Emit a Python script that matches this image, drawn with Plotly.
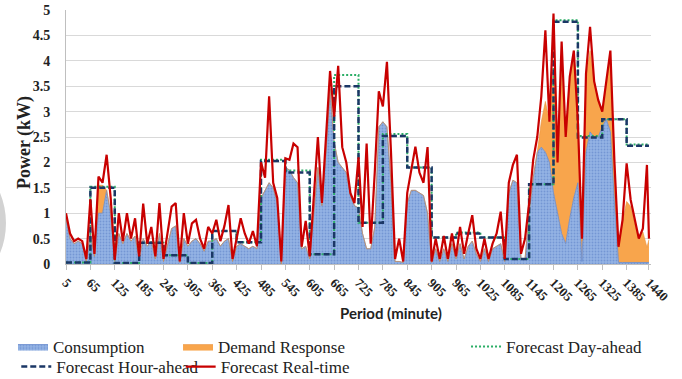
import plotly.graph_objects as go

# ---------------- data ----------------
minutes = list(range(5, 1440, 10)) + [1440]

real_time = [1.0, 0.6, 0.45, 0.5, 0.45, 0.1, 1.28, 0.2, 1.72, 1.6,
             2.15, 1.3, 0.08, 1.0, 0.45, 1.0, 0.5, 0.9, 0.15, 1.19,
             0.4, 0.73, 0.15, 1.2, 0.1, 0.6, 1.13, 1.2, 0.05, 1.0,
             0.4, 0.8, 0.87, 0.5, 0.3, 0.73, 0.6, 0.87, 0.45, 0.75,
             1.16, 0.1, 0.5, 0.9, 0.6, 0.4, 0.65, 0.35, 2.0, 1.7,
             3.3, 1.6, 1.3, 0.05, 2.08, 2.05, 2.37, 2.3, 0.34, 0.85,
             0.15, 1.4, 2.5, 1.2, 2.4, 3.8, 2.9, 3.9, 2.3, 2.0,
             1.4, 1.2, 2.1, 0.73, 2.37, 0.4, 1.8, 3.4, 3.1, 3.98,
             2.2, 0.1, 0.5, 0.05, 1.4, 1.85, 2.31, 1.8, 1.6, 2.3,
             0.05, 0.5, 0.1, 0.55, 0.1, 0.6, 0.15, 0.73, 0.2, 0.6,
             0.96, 0.3, 0.1, 0.5, 0.1, 0.4, 0.6, 1.03, 0.1, 1.6,
             1.95, 2.15, 0.2, 0.5, 1.2, 2.05, 2.5, 3.3, 4.6, 2.8,
             4.93, 2.0, 4.38, 2.5, 3.69, 4.2, 2.8, 0.5, 3.75, 4.67,
             3.6, 3.23, 3.0, 3.6, 4.2, 2.0, 0.34, 0.87, 1.98, 1.26,
             0.9, 0.5, 0.7, 1.95, 0.5]

consumption = [0.9, 0.5, 0.4, 0.45, 0.4, 0.05, 0.6, 0.15, 1.0, 1.0,
               1.45, 1.0, 0.05, 0.6, 0.4, 0.6, 0.45, 0.55, 0.1, 0.5,
               0.35, 0.45, 0.1, 0.6, 0.05, 0.4, 0.7, 0.75, 0.03, 0.5,
               0.35, 0.45, 0.5, 0.4, 0.25, 0.45, 0.45, 0.5, 0.35, 0.45,
               0.5, 0.05, 0.35, 0.4, 0.35, 0.3, 0.35, 0.3, 1.3, 1.45,
               1.6, 1.5, 1.2, 0.0, 1.9, 1.85, 1.7, 1.6, 0.3, 0.35,
               0.1, 1.0, 1.9, 1.15, 2.2, 3.45, 2.4, 2.0, 1.9, 1.8,
               1.35, 1.15, 1.1, 0.6, 0.3, 0.3, 0.73, 2.7, 2.8, 2.7,
               1.6, 0.05, 0.05, 0.03, 1.2, 1.45, 1.45, 1.4, 1.35, 1.0,
               0.03, 0.3, 0.05, 0.3, 0.05, 0.4, 0.1, 0.4, 0.1, 0.35,
               0.45, 0.2, 0.05, 0.3, 0.05, 0.3, 0.35, 0.4, 0.05, 1.4,
               1.65, 1.6, 0.1, 0.1, 1.0, 1.7, 2.2, 2.3, 2.2, 2.0,
               1.4, 1.0, 0.6, 0.4, 0.9, 1.3, 1.6, 0.05, 2.2, 2.6,
               2.5, 2.5, 2.7, 2.85, 2.6, 1.2, 0.03, 0.03, 0.03, 0.03,
               0.03, 0.03, 0.03, 0.03, 0.03]

demand_response = [0, 0, 0, 0, 0, 0, 0, 0, 0.55, 0.55,
                    0, 0, 0, 0, 0, 0, 0, 0, 0, 0,
                    0, 0, 0, 0, 0, 0, 0, 0, 0, 0,
                    0, 0, 0, 0, 0, 0, 0, 0, 0, 0,
                    0, 0, 0, 0, 0, 0, 0, 0, 0, 0,
                    0, 0, 0, 0, 0, 0, 0, 0, 0, 0,
                    0, 0, 0, 0, 0, 0, 0, 0, 0, 0,
                    0, 0, 0, 0, 0, 0, 0, 0, 0, 0,
                    0, 0, 0, 0, 0, 0, 0, 0, 0, 0,
                    0, 0, 0, 0, 0, 0, 0, 0, 0, 0,
                    0, 0, 0, 0, 0, 0, 0, 0, 0, 0,
                    0, 0, 0, 0, 0, 0, 0, 0.5, 1.0, 0.8,
                    2.4, 1.0, 3.2, 2.1, 2.7, 2.9, 1.2, 0.4, 1.5, 1.6,
                    1.1, 0.7, 0.3, 0.75, 1.5, 0.8, 0.3, 0.8, 1.2, 1.1,
                    0.8, 0.45, 0.6, 0.3, 0.45]

hour_starts = list(range(5, 1440, 60)) + [1440]
hour_ahead = [0.03, 1.5, 0.02, 0.42, 0.17, 0.02, 0.65, 0.43, 2.03, 1.8,
              0.19, 3.5, 0.81, 2.52, 1.9, 0.52, 0.6, 0.52, 0.1, 1.57,
              4.77, 2.49, 2.85, 2.33]
day_ahead = [0.03, 1.52, 0.02, 0.42, 0.17, 0.02, 0.65, 0.43, 2.05, 1.84,
             0.19, 3.72, 0.81, 2.56, 1.9, 0.52, 0.62, 0.52, 0.1, 1.57,
             4.8, 2.52, 2.85, 2.35]

tick_vals = list(range(5, 1440, 60)) + [1440]
tick_text = [str(v) for v in tick_vals]

SERIF = "Liberation Serif, Times New Roman, serif"

# ---------------- figure ----------------
fig = go.Figure()

fig.add_trace(go.Scatter(
    x=minutes, y=consumption, name="Consumption", mode="lines",
    stackgroup="one", line=dict(color="#6388CC", width=0.8),
    fillcolor="#93B2E3",
    fillpattern=dict(shape=".", bgcolor="#94B3E4", fgcolor="#5379C2",
                     size=3, solidity=0.3),
    legend="legend", hoverinfo="skip"))

fig.add_trace(go.Scatter(
    x=minutes, y=demand_response, name="Demand Response", mode="lines",
    stackgroup="one", line=dict(color="#E8913A", width=0.6),
    fillcolor="#F8A54C", legend="legend2", hoverinfo="skip"))

fig.add_trace(go.Scatter(
    x=hour_starts, y=day_ahead + [day_ahead[-1]], name="Forecast Day-ahead",
    mode="lines", line=dict(color="#2BAE66", width=2, dash="2px,2px",
                            shape="hv"),
    legend="legend3", hoverinfo="skip"))

fig.add_trace(go.Scatter(
    x=hour_starts, y=hour_ahead + [hour_ahead[-1]], name="Forecast Hour-ahead",
    mode="lines", line=dict(color="#1B3766", width=2.5, dash="6px,3px",
                            shape="hv"),
    legend="legend4", hoverinfo="skip"))

fig.add_trace(go.Scatter(
    x=minutes, y=real_time, name="Forecast Real-time", mode="lines",
    line=dict(color="#C80000", width=2.2),
    legend="legend5", hoverinfo="skip"))

legend_font = dict(family=SERIF, size=17, color="#222222")
leg_common = dict(font=legend_font, bgcolor="rgba(0,0,0,0)",
                  orientation="v", yanchor="middle", xanchor="left",
                  itemwidth=30, tracegroupgap=0)

row1 = -0.3268
row2 = -0.4055

fig.update_layout(
    width=682, height=379,
    font=dict(family=SERIF, size=13, color="#222222"),
    margin=dict(l=66, r=31, t=10, b=115, pad=0, autoexpand=False),
    plot_bgcolor="white", paper_bgcolor="white",
    showlegend=True,
    legend=dict(x=-0.0906, y=row1, **leg_common),
    legend2=dict(x=0.1915, y=row1, **leg_common),
    legend3=dict(x=0.6838, y=row1, **leg_common),
    legend4=dict(x=-0.085, y=row2, **leg_common),
    legend5=dict(x=0.196, y=row2, **leg_common),
    xaxis=dict(range=[5, 1445], tickmode="array", tickvals=tick_vals,
               ticktext=tick_text, tickangle=45, showgrid=False,
               zeroline=False, showline=True, linecolor="#BFBFBF",
               ticks="outside", ticklen=5, tickcolor="#BFBFBF",
               automargin=False,
               tickfont=dict(family=SERIF, size=13, color="#222222",
                             weight="bold")),
    yaxis=dict(range=[0, 5], dtick=0.5, showgrid=True, gridcolor="#D9D9D9",
               gridwidth=1, zeroline=False, showline=True,
               linecolor="#BFBFBF", ticks="", ticklabelstandoff=12,
               automargin=False,
               tickfont=dict(family=SERIF, size=14, color="#222222",
                             weight="bold")),
    shapes=[dict(type="circle", xref="paper", yref="paper",
                 x0=-0.376, x1=-0.1026, y0=-0.1535, y1=0.476,
                 fillcolor="#D2D2D2", line=dict(width=0), layer="below")],
    annotations=[
        dict(text="Period (minute)", xref="paper", yref="paper",
             x=0.5556, y=-0.193, showarrow=False, xanchor="center",
             yanchor="middle",
             font=dict(family="Lato", size=15, color="#222222",
                       weight="bold")),
        dict(text="Power (kW)", xref="paper", yref="paper",
             x=-0.0718, y=0.48, showarrow=False, textangle=-90,
             xanchor="center", yanchor="middle",
             font=dict(family=SERIF, size=18, color="#222222",
                       weight="bold")),
    ],
)

fig.write_html("out.html", config={"displayModeBar": False},
               post_script="document.body.style.margin='0px';"
                           "document.body.style.overflow='hidden';")
